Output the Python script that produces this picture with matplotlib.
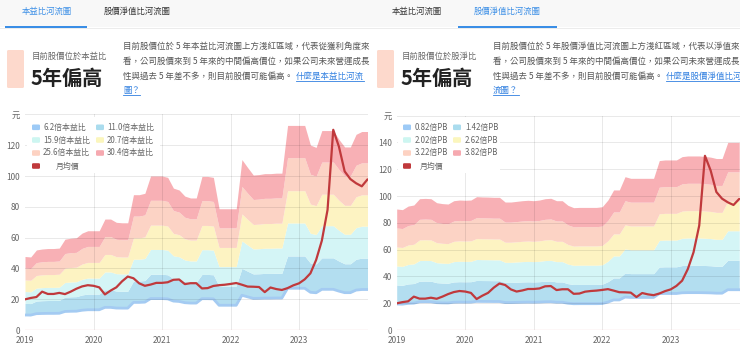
import matplotlib
matplotlib.use('Agg')
import matplotlib.pyplot as plt
import numpy as np
import pandas as pd
from matplotlib.patches import Rectangle, FancyBboxPatch
from matplotlib.lines import Line2D
from matplotlib.transforms import IdentityTransform

plt.rcParams['font.family'] = ['Noto Sans CJK TC', 'DejaVu Sans']

W, H = 740, 346

# ---------------- data ----------------
months = pd.date_range('2019-01-01', periods=61, freq='MS')
t = np.asarray(months.year + (months.month - 1) / 12.0, dtype=float)

price = [19.9, 20.8, 21.4, 24.9, 23.4, 23.4, 24.1, 23.3, 24.9, 26.8,
         28.3, 29.1, 28.7, 27.7, 23.1, 25.6, 27.7, 31.6, 34.7, 33.6,
         30.3, 28.7, 29.5, 30.6, 30.6, 31.0, 32.6, 32.8, 29.8, 30.4,
         30.4, 27.0, 27.2, 28.6, 29.1, 29.4, 29.9, 30.5, 29.4, 28.2,
         28.1, 27.9, 24.6, 27.6, 26.6, 26.0, 27.2, 29.0, 30.3, 32.9,
         36.8, 45.5, 58.0, 78.0, 130.0, 119.0, 103.0, 98.0, 95.3, 93.3, 97.8]

eps = [1.57, 1.56, 1.71, 1.73, 1.74, 1.74, 1.75, 1.94, 1.96, 1.97,
       2.07, 2.12, 2.12, 2.12, 2.37, 2.37, 2.30, 2.29, 2.29, 2.89,
       2.89, 2.92, 3.29, 3.29, 3.29, 3.26, 3.03, 2.99, 2.86, 2.82,
       2.82, 3.28, 3.28, 3.26, 2.59, 2.59, 2.59, 2.59, 3.64, 3.47,
       3.31, 3.32, 3.34, 3.34, 3.35, 3.35, 4.37, 4.37, 4.37, 4.37,
       3.95, 3.90, 4.26, 4.26, 4.26, 4.07, 3.91, 3.91, 4.18, 4.24, 4.24]

bvps = [23.64, 23.51, 24.21, 24.42, 25.65, 25.71, 25.65, 24.87, 24.69, 24.61,
        25.26, 25.39, 25.34, 25.39, 26.05, 25.99, 25.97, 25.92, 25.92, 25.00,
        25.00, 25.13, 25.26, 25.34, 25.26, 25.39, 25.65, 25.73, 25.26, 25.26,
        24.35, 23.90, 23.95, 23.95, 23.95, 23.95, 24.08, 25.40, 27.36, 27.36,
        29.95, 29.63, 29.63, 29.63, 29.63, 29.63, 33.10, 33.22, 33.22, 33.22,
        33.87, 34.00, 34.00, 34.00, 33.90, 33.77, 33.50, 33.50, 36.65, 36.65, 36.65]

pe_mult = [6.2, 11.0, 15.9, 20.7, 25.6, 30.4]
pb_mult = [0.82, 1.42, 2.02, 2.62, 3.22, 3.82]
pe_labels = ['6.2倍本益比', '11.0倍本益比', '15.9倍本益比', '20.7倍本益比', '25.6倍本益比', '30.4倍本益比']
pb_labels = ['0.82倍PB', '1.42倍PB', '2.02倍PB', '2.62倍PB', '3.22倍PB', '3.82倍PB']
price_label = '月均價'
year_ticks = [2019, 2020, 2021, 2022, 2023]
pe_yticks = [0, 20, 40, 60, 80, 100, 120, 140]
pb_yticks = [0, 20, 40, 60, 80, 100, 120, 140, 160]
unit_label = '元'

tabs = ['本益比河流圖', '股價淨值比河流圖']
box_titles = ['目前股價位於本益比', '目前股價位於股淨比']
verdict = '5年偏高'
para = [
    ['目前股價位於 5 年本益比河流圖上方淺紅區域，代表從獲利角度來',
     '看，公司股價來到 5 年來的中間偏高價位，如果公司未來營運成長',
     '性與過去 5 年差不多，則目前股價可能偏高。'],
    ['目前股價位於 5 年股價淨值比河流圖上方淺紅區域，代表以淨值來',
     '看，公司股價來到 5 年來的中間偏高價位，如果公司未來營運成長',
     '性與過去 5 年差不多，則目前股價可能偏高。'],
]
links = [['什麼是本益比河流', '圖？'], ['什麼是股價淨值比河', '流圖？']]

# ---------------- styles ----------------
fill_colors = ['#a4cbf2', '#b3def0', '#d4f5f6', '#fdf3c2', '#fcd3c5', '#f8b0b5']
legend_colors = ['#9dcaf6', '#aadcee', '#cdf6f1', '#fbf6bd', '#fdd2c2', '#f6a9b0']
price_color = '#c0393c'
tick_color = '#666666'
blue = '#3a8ee6'

fig = plt.figure(figsize=(W / 100, H / 100), dpi=100)
fig.patch.set_facecolor('white')
ID = IdentityTransform()


def rect_px(x0, y0, x1, y1, color, z=1, rounding=0.0):
    if rounding > 0:
        p = FancyBboxPatch((x0, H - y1), x1 - x0, y1 - y0,
                           boxstyle=f'round,pad=0,rounding_size={rounding}',
                           transform=ID, facecolor=color, edgecolor='none', zorder=z)
    else:
        p = Rectangle((x0, H - y1), x1 - x0, y1 - y0, transform=ID,
                      facecolor=color, edgecolor='none', zorder=z)
    fig.add_artist(p)
    return p


def text_px(x, y, s, **kw):
    kw.setdefault('va', 'center')
    return fig.text(x / W, 1 - y / H, s, **kw)


# ---------------- header / tabs / text boxes ----------------
rect_px(0, 0, W, 27, '#f8f8f8', z=0.5)
fig.add_artist(Line2D([0, 1], [1 - 27.5 / H] * 2, transform=fig.transFigure,
                      color='#ececec', lw=0.7, zorder=0.6))

link_items = []
for p, ox in enumerate([0, 370]):
    centers = [ox + 47, ox + 137]
    for i, lab in enumerate(tabs):
        col = blue if i == p else '#333333'
        text_px(centers[i], 11.5, lab, ha='center', fontsize=6.0, color=col)
    ux = [(ox + 5, ox + 87), (ox + 88, ox + 187)][p]
    rect_px(ux[0], 25.5, ux[1], 27.8, blue, z=2)

    rect_px(ox + 7, 50, ox + 24, 88, '#fdd9cc', z=1, rounding=1.5)
    text_px(ox + 32, 56.5, box_titles[p], ha='left', fontsize=6.0, color='#666666')
    text_px(ox + 31, 78, verdict, ha='left', fontsize=14.5, color='#222222', fontweight='bold')

    ys = [46.7, 61.7, 76.7]
    for line, yy in zip(para[p], ys):
        text_px(ox + 123, yy, line, ha='left', fontsize=6.1, color='#555555')
    t1 = text_px(ox + 296, 76.7, links[p][0], ha='left', fontsize=6.1, color='#2f7fe0')
    t2 = text_px(ox + 123, 90.7, links[p][1], ha='left', fontsize=6.1, color='#2f7fe0')
    link_items += [t1, t2]


# ---------------- charts ----------------
def make_chart(x0, x1, ymax, yticks, base, mult, labels, leg_cfg):
    xr = 2019 + (x1 - x0) / 68.5
    ax = fig.add_axes([x0 / W, (H - 330) / H, (x1 - x0) / W,
                       ymax * leg_cfg['ppu'] / H])
    ax.set_xlim(2019, xr)
    ax.set_ylim(0, ymax)
    for s in ax.spines.values():
        s.set_visible(False)
    base = np.asarray(base, dtype=float)
    for k in range(1, len(mult)):
        ax.fill_between(t, mult[k - 1] * base, mult[k] * base,
                        color=fill_colors[k], lw=0, zorder=1)
    ax.plot(t, mult[0] * base, color=fill_colors[0], lw=2.0, zorder=1.5,
            solid_joinstyle='round')
    for yv in yticks[1:]:
        ax.axhline(yv, color=(0, 0, 0, 0.085), lw=0.75, zorder=2)
    for xv in year_ticks[1:]:
        ax.axvline(xv, color=(0, 0, 0, 0.085), lw=0.75, zorder=2)
    ax.axhline(0, color='#f3c3c7', lw=0.9, zorder=2)
    ax.plot(t, price, color=price_color, lw=1.6, zorder=3,
            solid_joinstyle='round', solid_capstyle='round')
    ax.set_xticks(year_ticks)
    ax.set_xticklabels([str(y) for y in year_ticks])
    ax.set_yticks(yticks)
    ax.set_yticklabels([str(v) for v in yticks[:-1]] + [unit_label])
    ax.tick_params(length=0, labelsize=6.0, labelcolor=tick_color)
    ax.tick_params(axis='y', pad=3.6)
    ax.tick_params(axis='x', pad=4.0)

    bx0, bx1 = leg_cfg['box']
    rect_px(bx0, 116.5, bx1, 173, 'white', z=2)
    rows = [127.3, 140.0, 153.0, 166.0]
    for i, lab in enumerate(labels):
        r, c = divmod(i, 2)
        sx = leg_cfg['sw'][c]
        rect_px(sx, rows[r] - 2.8, sx + 8, rows[r] + 2.8, legend_colors[i], z=3, rounding=1.2)
        text_px(leg_cfg['tx'][c], rows[r], lab, ha='left', fontsize=5.7, color=tick_color, zorder=4)
    sx = leg_cfg['sw'][0]
    rect_px(sx, rows[3] - 2.8, sx + 8, rows[3] + 2.8, price_color, z=3, rounding=1.2)
    text_px(leg_cfg['ptx'], rows[3], price_label, ha='left', fontsize=5.7, color=tick_color, zorder=4)
    return ax


make_chart(25, 368, 140, pe_yticks, eps, pe_mult, pe_labels,
           dict(ppu=1.54, box=(27, 160), sw=(32, 96), tx=(43, 107), ptx=56))
make_chart(396.7, 740, 160, pb_yticks, bvps, pb_mult, pb_labels,
           dict(ppu=1.34, box=(398, 500), sw=(403, 453), tx=(415, 465), ptx=420))

fig.canvas.draw()
r = fig.canvas.get_renderer()
for tt in link_items:
    bb = tt.get_window_extent(renderer=r)
    yb = bb.y0 + 0.5
    fig.add_artist(Line2D([bb.x0, bb.x1], [yb, yb], transform=ID,
                          color='#2f7fe0', lw=0.6, zorder=5))

fig.savefig('out.png', dpi=100, facecolor='white')
